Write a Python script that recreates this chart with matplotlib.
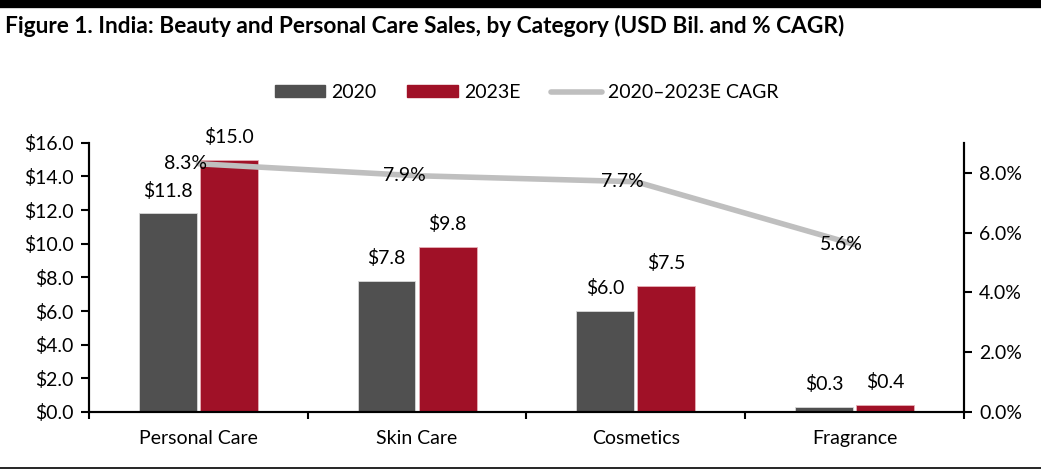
import numpy as np
import matplotlib.pyplot as plt
from matplotlib.lines import Line2D
from matplotlib.patches import Patch

categories = ["Personal Care", "Skin Care", "Cosmetics", "Fragrance"]
sales_2020 = [11.8, 7.8, 6.0, 0.3]
sales_2023e = [15.0, 9.8, 7.5, 0.4]
cagr = [8.3, 7.9, 7.7, 5.6]

dark = "#505050"
red = "#A01127"
grey = "#BFBFBF"

plt.rcParams["font.family"] = ["Lato", "DejaVu Sans"]
fs = 14

fig = plt.figure(figsize=(10.41, 4.73), dpi=100)
ax = fig.add_axes([0.0855, 0.129, 0.8405, 0.569])
ax2 = ax.twinx()

x = np.arange(len(categories))
w = 0.265
b1 = ax.bar(x - 0.14, sales_2020, w, color=dark, edgecolor="#d9d9d9", linewidth=0.6, zorder=2)
b2 = ax.bar(x + 0.14, sales_2023e, w, color=red, edgecolor="#e6b0b8", linewidth=0.6, zorder=2)

for bars in (b1, b2):
    for r in bars:
        ax.annotate(f"${r.get_height():.1f}", (r.get_x() + r.get_width() / 2, r.get_height()),
                    xytext=(0, 10), textcoords="offset points", ha="center", va="bottom",
                    fontsize=fs)

ax.set_xlim(-0.5, 3.5)
ax.set_ylim(0, 16)
ax.set_yticks(np.arange(0, 16.1, 2))
ax.set_yticklabels([f"${v:.1f}" for v in np.arange(0, 16.1, 2)])
ax.set_xticks(x)
ax.set_xticklabels(categories)
ax.set_xticks(np.arange(-0.5, 3.6, 1), minor=True)
ax.tick_params(axis="x", which="major", length=0, labelsize=fs, pad=13)
ax.tick_params(axis="x", which="minor", length=5, width=1.5, direction="out")
ax.tick_params(axis="y", length=6, width=1.5, labelsize=fs, pad=5)

ax2.set_ylim(0, 9)
ax2.set_yticks([0, 2, 4, 6, 8])
ax2.set_yticklabels([f"{v:.1f}%" for v in [0, 2, 4, 6, 8]])
ax2.tick_params(axis="y", length=6, width=1.5, labelsize=fs, pad=5)
ax2.plot(x, cagr, color=grey, linewidth=4, solid_capstyle="round", zorder=3)
for xi, c in zip(x, cagr):
    ax2.annotate(f"{c:.1f}%", (xi, c), xytext=(6, 0), textcoords="offset points",
                 ha="right", va="center", fontsize=fs, zorder=4)

for a in (ax, ax2):
    a.spines["top"].set_visible(False)
    for s in ("left", "right", "bottom"):
        a.spines[s].set_linewidth(1.5)
ax.set_zorder(ax2.get_zorder() - 1)
ax2.patch.set_visible(False)

handles = [Patch(color=dark), Patch(color=red),
           Line2D([0], [0], color=grey, linewidth=4, solid_capstyle="round")]
ax.legend(handles, ["2020", "2023E", "2020\u20132023E CAGR"], loc="lower center",
          bbox_to_anchor=(0.5, 1.09), ncol=3, frameon=False, fontsize=fs,
          handlelength=2.6, handleheight=0.6, columnspacing=1.6, handletextpad=0.3)

fig.text(0.005, 0.945, "Figure 1. India: Beauty and Personal Care Sales, by Category (USD Bil. and % CAGR)",
         fontsize=16.3, fontweight="bold", ha="left", va="center")
fig.add_artist(Line2D([0, 1], [0.992, 0.992], color="black", linewidth=6, transform=fig.transFigure))
fig.add_artist(Line2D([0, 1], [0.01, 0.01], color="black", linewidth=1.2, transform=fig.transFigure))

fig.savefig("out.png", dpi=100)
